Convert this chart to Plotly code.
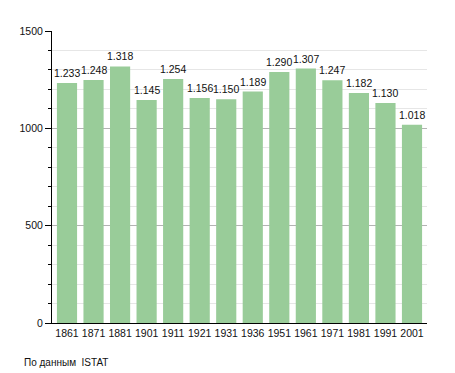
import plotly.graph_objects as go

years = ["1861", "1871", "1881", "1901", "1911", "1921", "1931", "1936",
         "1951", "1961", "1971", "1981", "1991", "2001"]
population = [1233, 1248, 1318, 1145, 1254, 1156, 1150, 1189,
              1290, 1307, 1247, 1182, 1130, 1018]
y_ticks = [0, 500, 1000, 1500]
source_note = "По данным  ISTAT"

labels = [f"{v:,}".replace(",", ".") for v in population]

FONT = "Liberation Sans, Arial, sans-serif"

# page body has an 8px margin, so the figure is sized/offset to compensate
PLOT_W = 377
PLOT_H = 292

fig = go.Figure(go.Bar(
    x=years, y=population,
    marker=dict(color="#99cc99", line=dict(width=0)),
    hoverinfo="skip",
))

# value labels placed above each bar through the data scales
# (category axis: annotation x is the category index)
for i, (v, lab) in enumerate(zip(population, labels)):
    fig.add_annotation(x=i, y=v, text=lab, xref="x", yref="y",
                       showarrow=False, yanchor="bottom", yshift=2,
                       font=dict(family=FONT, size=10.5, color="#111"))

fig.add_annotation(text=source_note, x=-30 / PLOT_W, y=-39 / PLOT_H,
                   xref="paper", yref="paper",
                   xanchor="left", yanchor="middle", showarrow=False,
                   font=dict(family=FONT, size=10, color="#111"))

fig.update_layout(
    width=447, height=365,
    margin=dict(l=42, r=28, t=23, b=50),
    paper_bgcolor="white", plot_bgcolor="white",
    bargap=0.24, showlegend=False,
    font=dict(family=FONT, size=10.5, color="#111"),
)

fig.update_xaxes(
    type="category", categoryorder="array", categoryarray=years,
    showline=True, linecolor="black", linewidth=1,
    ticks="", showgrid=False, tickfont=dict(size=10.5), ticklabelstandoff=0,
)
fig.update_yaxes(
    range=[0, 1500], tickvals=y_ticks, showline=True, linecolor="black", linewidth=1,
    ticks="outside", ticklen=6, tickcolor="black",
    showgrid=True, gridcolor="#b3b3b3", gridwidth=1,
    minor=dict(dtick=100, ticks="outside", ticklen=3, tickcolor="black",
               showgrid=True, gridcolor="#e6e6e6", gridwidth=1),
    zeroline=False, tickfont=dict(size=10.5),
)

fig.write_html("out.html")
